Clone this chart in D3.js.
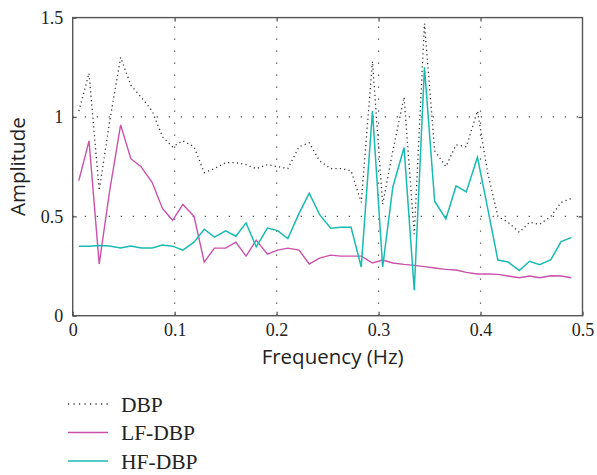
<!DOCTYPE html>
<html>
<head>
<meta charset="utf-8">
<script src="https://cdn.jsdelivr.net/npm/d3@7"></script>
<style>
  body { margin: 0; background: #fff; }
  svg { display: block; }
</style>
</head>
<body>
<svg id="chart"></svg>
<script>
// frequency bins (Hz)
var freqs = [0.006, 0.016, 0.026, 0.036, 0.047, 0.057, 0.067, 0.078, 0.088, 0.098,
  0.108, 0.119, 0.129, 0.139, 0.150, 0.160, 0.170, 0.180, 0.191, 0.201,
  0.211, 0.222, 0.232, 0.242, 0.253, 0.263, 0.273, 0.283, 0.294, 0.304,
  0.314, 0.325, 0.335, 0.345, 0.355, 0.366, 0.376, 0.386, 0.397, 0.407,
  0.417, 0.427, 0.438, 0.448, 0.458, 0.469, 0.479, 0.489];

var dbp = [1.03, 1.22, 0.63, 0.97, 1.30, 1.16, 1.10, 1.03, 0.90, 0.85,
  0.88, 0.85, 0.72, 0.74, 0.77, 0.77, 0.76, 0.74, 0.76, 0.75,
  0.74, 0.85, 0.87, 0.78, 0.74, 0.74, 0.73, 0.57, 1.28, 0.56,
  0.83, 1.10, 0.41, 1.47, 0.83, 0.75, 0.86, 0.85, 1.03, 0.72,
  0.50, 0.47, 0.42, 0.47, 0.46, 0.50, 0.57, 0.59];

var lfDbp = [0.68, 0.88, 0.26, 0.62, 0.96, 0.79, 0.75, 0.67, 0.54, 0.48,
  0.56, 0.50, 0.27, 0.34, 0.34, 0.37, 0.30, 0.38, 0.31, 0.33,
  0.34, 0.33, 0.26, 0.29, 0.305, 0.30, 0.30, 0.30, 0.265, 0.28,
  0.265, 0.258, 0.253, 0.247, 0.24, 0.233, 0.23, 0.218, 0.21, 0.21,
  0.208, 0.20, 0.191, 0.20, 0.191, 0.201, 0.20, 0.191];

var hfDbp = [0.35, 0.35, 0.353, 0.351, 0.341, 0.351, 0.341, 0.341, 0.356, 0.35,
  0.33, 0.37, 0.435, 0.395, 0.427, 0.40, 0.467, 0.346, 0.441, 0.428,
  0.388, 0.515, 0.616, 0.51, 0.44, 0.445, 0.445, 0.245, 1.03, 0.245,
  0.648, 0.846, 0.128, 1.25, 0.576, 0.487, 0.653, 0.623, 0.797, 0.54,
  0.28, 0.27, 0.227, 0.274, 0.257, 0.282, 0.373, 0.393];

var xTicks = [0, 0.1, 0.2, 0.3, 0.4, 0.5];
var yTicks = [0, 0.5, 1, 1.5];
var seriesNames = ["DBP", "LF-DBP", "HF-DBP"];

var W = 597, H = 475;
var margin = {left: 72.7, right: 14.5, top: 17.6, bottom: 159.3};
var pw = W - margin.left - margin.right;
var ph = H - margin.top - margin.bottom;

var series = [
  {name: seriesNames[0], values: dbp, color: "#333", width: 1.3, dash: "1.2,3.2"},
  {name: seriesNames[1], values: lfDbp, color: "#cb50aa", width: 1.4, dash: null},
  {name: seriesNames[2], values: hfDbp, color: "#19bab2", width: 1.5, dash: null}
];

var svg = d3.select("#chart").attr("width", W).attr("height", H);
var g = svg.append("g").attr("transform", "translate(" + margin.left + "," + margin.top + ")");

var x = d3.scaleLinear().domain([0, 0.5]).range([0, pw]);
var y = d3.scaleLinear().domain([0, 1.5]).range([ph, 0]);

var gridColor = "#444";
var tickFont = "'Liberation Serif', 'DejaVu Serif', serif";
var titleFont = "'Open Sans', 'Noto Sans', sans-serif";

// dotted grid
g.selectAll(".vgrid").data(xTicks.slice(1, -1)).enter().append("line")
  .attr("x1", x).attr("x2", x).attr("y1", ph).attr("y2", 0)
  .attr("stroke", gridColor).attr("stroke-width", 1.2)
  .attr("stroke-dasharray", "1.2,10.8");
g.selectAll(".hgrid").data(yTicks.slice(1, -1)).enter().append("line")
  .attr("x1", 0).attr("x2", pw).attr("y1", y).attr("y2", y)
  .attr("stroke", gridColor).attr("stroke-width", 1.2)
  .attr("stroke-dasharray", "1.2,10.8");

// axes, ticks point inward
function styleAxis(sel) {
  sel.select(".domain").remove();
  sel.selectAll(".tick line").attr("stroke", "#555").attr("stroke-width", 1.3);
  sel.selectAll(".tick text").attr("font-family", tickFont).attr("font-size", 18).attr("fill", "#222");
}

g.append("g").attr("transform", "translate(0," + ph + ")")
  .call(d3.axisBottom(x).tickValues(xTicks).tickSize(-4).tickPadding(7.5).tickFormat(d3.format("")))
  .call(styleAxis);
g.append("g")
  .call(d3.axisLeft(y).tickValues(yTicks).tickSize(-4).tickPadding(9.5).tickFormat(d3.format("")))
  .call(styleAxis);
g.append("g")
  .call(d3.axisTop(x).tickValues(xTicks.slice(1, -1)).tickSize(-4).tickFormat(""))
  .call(styleAxis);
g.append("g").attr("transform", "translate(" + pw + ",0)")
  .call(d3.axisRight(y).tickValues(yTicks.slice(1, -1)).tickSize(-4).tickFormat(""))
  .call(styleAxis);

// lines
var line = d3.line()
  .x(function(d) { return x(d[0]); })
  .y(function(d) { return y(d[1]); });

series.forEach(function(s) {
  var pts = freqs.map(function(f, i) { return [f, s.values[i]]; });
  g.append("path")
    .datum(pts)
    .attr("d", line)
    .attr("fill", "none")
    .attr("stroke", s.color)
    .attr("stroke-width", s.width)
    .attr("stroke-linejoin", "miter")
    .attr("stroke-dasharray", s.dash);
});

// frame
g.append("rect")
  .attr("x", 0).attr("y", 0).attr("width", pw).attr("height", ph)
  .attr("fill", "none").attr("stroke", "#555").attr("stroke-width", 1.4);

// axis titles
svg.append("text")
  .attr("x", margin.left + pw / 2 + 5).attr("y", 364)
  .attr("text-anchor", "middle")
  .attr("font-family", titleFont)
  .attr("font-size", 20.5).attr("fill", "#222")
  .text("Frequency (Hz)");
svg.append("text")
  .attr("transform", "translate(25," + (margin.top + ph / 2) + ") rotate(-90)")
  .attr("text-anchor", "middle")
  .attr("font-family", titleFont)
  .attr("font-size", 20.5).attr("fill", "#222")
  .text("Amplitude");

// legend
var legend = svg.append("g").attr("transform", "translate(68,404)");
var item = legend.selectAll("g").data(series).enter().append("g")
  .attr("transform", function(d, i) { return "translate(0," + i * 28.5 + ")"; });
item.append("line")
  .attr("x1", 0).attr("x2", 40).attr("y1", 0).attr("y2", 0)
  .attr("stroke", function(d) { return d.color; })
  .attr("stroke-width", function(d) { return d.width; })
  .attr("stroke-dasharray", function(d) { return d.dash ? "1.2,4.3" : null; });
item.append("text")
  .attr("x", 53).attr("y", 7.5)
  .attr("font-family", tickFont).attr("font-size", 21.5).attr("fill", "#222")
  .text(function(d) { return d.name; });
</script>
</body>
</html>
